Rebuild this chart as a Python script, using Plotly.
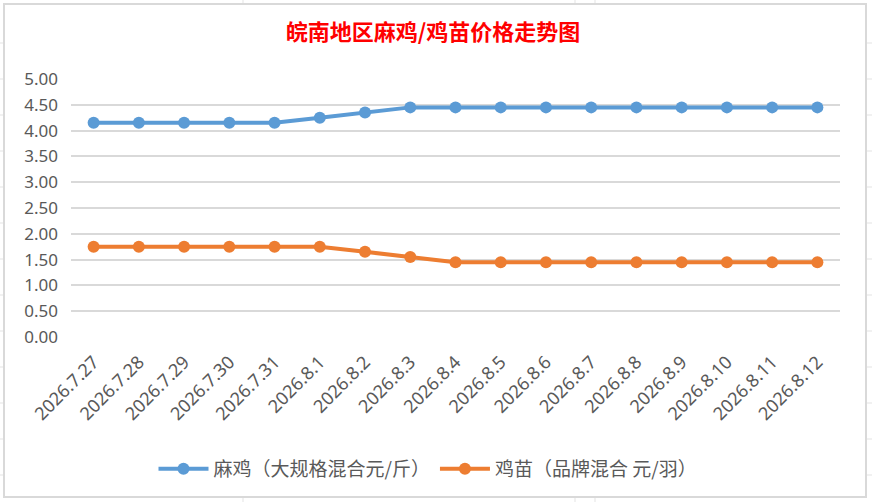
import plotly.graph_objects as go

dates = ["2026.7.27", "2026.7.28", "2026.7.29", "2026.7.30", "2026.7.31",
         "2026.8.1", "2026.8.2", "2026.8.3", "2026.8.4", "2026.8.5", "2026.8.6",
         "2026.8.7", "2026.8.8", "2026.8.9", "2026.8.10", "2026.8.11", "2026.8.12"]
ma_ji = [4.15, 4.15, 4.15, 4.15, 4.15, 4.25, 4.35, 4.45, 4.45, 4.45, 4.45,
         4.45, 4.45, 4.45, 4.45, 4.45, 4.45]
ji_miao = [1.75, 1.75, 1.75, 1.75, 1.75, 1.75, 1.65, 1.55, 1.45, 1.45, 1.45,
           1.45, 1.45, 1.45, 1.45, 1.45, 1.45]
y_ticks = [0, 0.5, 1, 1.5, 2, 2.5, 3, 3.5, 4, 4.5, 5]

W, H = 872, 502
ML, MR, MT, MB = 71, 32, 79, 165
PW, PH = W - ML - MR, H - MT - MB


def px(x):
    return (x - ML) / PW


def py(y):
    return (H - MB - y) / PH


fig = go.Figure()
fig.add_trace(go.Scatter(
    x=dates, y=ma_ji, mode="lines+markers", name="麻鸡（大规格混合元/斤）",
    line=dict(color="#5B9BD5", width=4), marker=dict(size=12, color="#5B9BD5")))
fig.add_trace(go.Scatter(
    x=dates, y=ji_miao, mode="lines+markers", name="鸡苗（品牌混合 元/羽）",
    line=dict(color="#ED7D31", width=4), marker=dict(size=12, color="#ED7D31")))

shapes = []
grid_col = "#e3e3e3"
# spreadsheet cell lines outside the chart
for yy in range(43, 480, 36):
    shapes.append(dict(type="line", xref="paper", yref="paper", x0=px(0), x1=px(4),
                       y0=py(yy), y1=py(yy), line=dict(color=grid_col, width=1), layer="below"))
    shapes.append(dict(type="line", xref="paper", yref="paper", x0=px(866), x1=px(872),
                       y0=py(yy), y1=py(yy), line=dict(color=grid_col, width=1), layer="below"))
for xx in [243, 575, 595]:
    shapes.append(dict(type="line", xref="paper", yref="paper", x0=px(xx), x1=px(xx),
                       y0=py(0), y1=py(4), line=dict(color=grid_col, width=1), layer="below"))
    shapes.append(dict(type="line", xref="paper", yref="paper", x0=px(xx), x1=px(xx),
                       y0=py(497), y1=py(502), line=dict(color=grid_col, width=1), layer="below"))
# chart border
shapes.append(dict(type="rect", xref="paper", yref="paper", x0=px(4), x1=px(866),
                   y0=py(497), y1=py(4), line=dict(color="#d9d9d9", width=2), layer="below"))

fig.update_layout(
    width=W, height=H,
    margin=dict(l=ML, r=MR, t=MT, b=MB),
    paper_bgcolor="white", plot_bgcolor="white",
    title=dict(text="<b>皖南地区麻鸡/鸡苗价格走势图</b>", x=433 / W, xref="container",
               xanchor="center", y=1 - 32 / H, yref="container", yanchor="middle",
               font=dict(family="Noto Sans CJK SC", size=22, color="#FF0000")),
    xaxis=dict(type="category", range=[-0.5, 16.5], tickangle=-45, showgrid=False,
               showline=False, ticks="", zeroline=False, ticklabelstandoff=10,
               tickfont=dict(family="Noto Sans, Noto Sans CJK SC", size=18, color="#595959")),
    yaxis=dict(range=[0, 5], tickvals=y_ticks, tickformat=".2f", showgrid=True,
               gridcolor="#d9d9d9", gridwidth=2, zeroline=False, showline=False,
               ticklabelstandoff=12,
               tickfont=dict(family="Noto Sans", size=17, color="#595959")),
    legend=dict(orientation="h", x=px(428), xanchor="center", y=py(469), yanchor="middle",
                font=dict(family="Noto Sans CJK SC", size=19, color="#595959"),
                itemwidth=50, tracegroupgap=0),
    shapes=shapes,
    showlegend=True,
)

fig.write_html("out.html", config={"displayModeBar": False},
               post_script="document.body.style.margin='0';document.body.style.padding='0';")
